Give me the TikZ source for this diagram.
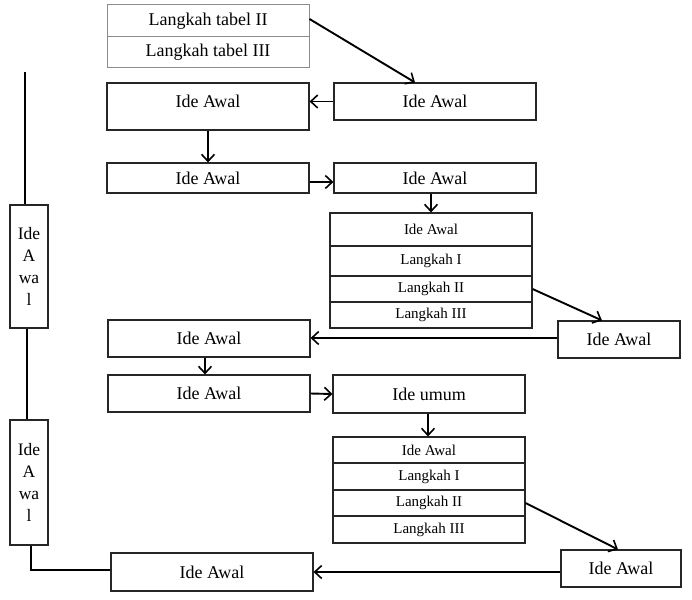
\documentclass[tikz,border=0pt]{standalone}
\usepackage{fontspec}
\setmainfont{Liberation Serif}
\usetikzlibrary{arrows.meta}
\begin{document}
\begin{tikzpicture}[x=1pt,y=-1pt,
  box/.style={draw=black!85,line width=1.1pt,rectangle,inner sep=0pt,
    font=\fontsize{18}{20}\selectfont},
  rowbox/.style={draw=black!85,line width=1.1pt,rectangle,inner sep=0pt,
    font=\fontsize{15}{18}\selectfont},
  graybox/.style={draw=black!45,line width=1pt,rectangle,inner sep=0pt,
    font=\fontsize{18}{20}\selectfont},
  vbox/.style={draw=black!85,line width=1.1pt,rectangle,inner sep=0pt,align=center,
    font=\fontsize{17.5}{22}\selectfont},
  arr/.style={line width=1.9pt,-{Straight Barb[length=7pt,width=13pt,line width=1.6pt]}},
  ln/.style={line width=1.9pt}]
\useasboundingbox (0,0) rectangle (692,599);

% top table
\node[graybox,minimum width=202,minimum height=32] (tt1) at (208,21) {Langkah tabel II};
\node[graybox,minimum width=202,minimum height=31] (tt2) at (208,52.5) {Langkah tabel III};

% row 1
\node[box,minimum width=202,minimum height=47] (A) at (208,106.5) {};
\node[font=\fontsize{18}{20}\selectfont,inner sep=0pt] (Atext) at (208,101) {Ide Awal};
\node[box,minimum width=202,minimum height=37] (B) at (435,101.5) {Ide Awal};

% row 2
\node[box,minimum width=202,minimum height=30] (C) at (208,178) {Ide Awal};
\node[box,minimum width=202,minimum height=30] (D) at (435,178) {Ide Awal};

% table 1
\node[rowbox,minimum width=202,minimum height=33] (t1a) at (431,229.5) {Ide Awal};
\node[rowbox,minimum width=202,minimum height=30] (t1b) at (431,261) {Langkah I};
\node[rowbox,minimum width=202,minimum height=26] (t1c) at (431,289) {Langkah II};
\node[rowbox,minimum width=202,minimum height=26] (t1d) at (431,315) {Langkah III};

% row 3
\node[box,minimum width=122,minimum height=37] (E) at (619,339.5) {Ide Awal};
\node[box,minimum width=202,minimum height=37] (F) at (209,338.5) {Ide Awal};

% row 4
\node[box,minimum width=202,minimum height=37] (G) at (209,393.5) {Ide Awal};
\node[box,minimum width=192,minimum height=38] (H) at (429,394) {Ide umum};

% table 2
\node[rowbox,minimum width=192,minimum height=26] (t2a) at (429,450) {Ide Awal};
\node[rowbox,minimum width=192,minimum height=27] (t2b) at (429,476.5) {Langkah I};
\node[rowbox,minimum width=192,minimum height=26] (t2c) at (429,503) {Langkah II};
\node[rowbox,minimum width=192,minimum height=27] (t2d) at (429,529.5) {Langkah III};

% bottom row
\node[box,minimum width=120,minimum height=37] (I) at (621,568.5) {Ide Awal};
\node[box,minimum width=202,minimum height=38] (J) at (212,572) {Ide Awal};

% left vertical boxes
\node[vbox,minimum width=38,minimum height=123] (K1) at (29,266.5) {Ide\\A\\wa\\l};
\node[vbox,minimum width=38,minimum height=125] (K2) at (29,482.5) {Ide\\A\\wa\\l};
\coordinate (top) at (25,72);

% connectors
\draw[arr] ([yshift=2]tt1.east) -- ([xshift=-20]B.north);
\draw[arr] (B.west) -- (A.east |- B.west);
\draw[arr] (A.south) -- (C.north);
\draw[arr] ([yshift=-4]C.east) -- ([yshift=-4]D.west);
\draw[arr] ([xshift=-4]D.south) -- (t1a.north);
\draw[arr] (t1c.east) -- ([xshift=-17]E.north);
\draw[arr] ([yshift=1.5]E.west) -- ([yshift=1.5]E.west -| F.east);
\draw[arr] ([xshift=-4]F.south) -- ([xshift=-4]G.north);
\draw[arr] (G.east) -- (H.west);
\draw[arr] ([xshift=-1]H.south) -- ([xshift=-1]t2a.north);
\draw[arr] (t2c.east) -- ([xshift=-3]I.north);
\draw[arr] (I.west |- J.east) -- (J.east);
\draw[ln] (top) -- ([xshift=-4]K1.north);
\draw[ln] ([xshift=-2]K1.south) -- ([xshift=-2]K2.north);
\draw[ln] ([xshift=2]K2.south) |- ([yshift=2]J.west);
\end{tikzpicture}
\end{document}
